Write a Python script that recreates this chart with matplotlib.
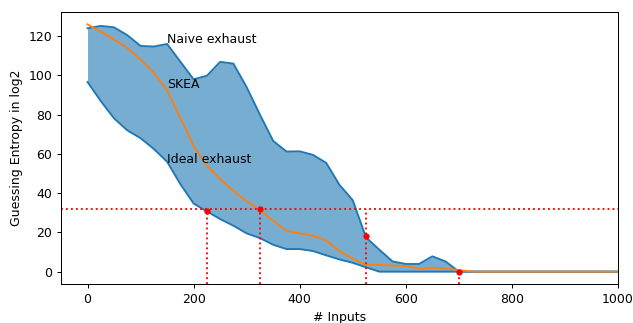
import matplotlib
matplotlib.use("Agg")
import matplotlib.pyplot as plt
import numpy as np

s = 0.9
plt.rcParams["font.size"] = 10 * s
plt.rcParams["xtick.major.size"] = 3.5 * s
plt.rcParams["ytick.major.size"] = 3.5 * s
plt.rcParams["xtick.major.pad"] = 3.5 * s
plt.rcParams["ytick.major.pad"] = 3.5 * s
plt.rcParams["axes.labelpad"] = 4.0 * s
plt.rcParams["axes.linewidth"] = 0.8 * s
plt.rcParams["xtick.major.width"] = 0.8 * s
plt.rcParams["ytick.major.width"] = 0.8 * s

inputs = list(range(0, 1001, 25))
naive = [124, 125.2, 124.5, 120.5, 115, 114.7, 116, 107, 98, 99.8, 106.9, 106, 94,
         80, 66.6, 61.2, 61.3, 59.5, 55.4, 44.2, 36.4, 17.4, 11.2, 5.2, 3.9, 3.9,
         7.8, 5.2, 0] + [0] * 12
ideal = [96.6, 86.9, 78.1, 72, 68, 62.5, 56, 44.6, 34.7, 30.7, 26.8, 23.4, 19.5,
         17.1, 13.7, 11.5, 11.5, 10.5, 8.3, 6.2, 4.5, 2.2, 0] + [0] * 18
skea = [126, 122.2, 118.3, 114, 108, 101.3, 92.4, 78.4, 64, 53.9, 47.1, 41.2, 35.8,
        31.4, 25.9, 20.8, 19.5, 18.3, 15.8, 10.5, 6.5, 3.4, 3.4, 3.1, 2.9, 1.6,
        2.0, 1.6, 0.8, 0] + [0] * 11

threshold = 32
cross_x = [225, 325, 525, 700]
cross_y = [31, 32, 18, 0]
line_top = [32, 32, 32, 0]

fig, ax = plt.subplots(figsize=(6.33, 3.23), dpi=100)
fig.subplots_adjust(left=61/633, right=618/633, top=1-12/323, bottom=1-284/323)

lw = 1.5 * s
ax.fill_between(inputs, ideal, naive, color="tab:blue", alpha=0.6, linewidth=0)
ax.plot(inputs, naive, color="tab:blue", linewidth=lw)
ax.plot(inputs, ideal, color="tab:blue", linewidth=lw)
ax.plot(inputs, skea, color="tab:orange", linewidth=lw)

ax.axhline(threshold, color="red", linestyle=":", linewidth=lw)
ymin = -6.3
for x, top in zip(cross_x, line_top):
    ax.plot([x, x], [ymin - 5, top], color="red", linestyle=":", linewidth=lw)
ax.plot(cross_x, cross_y, "o", color="red", markersize=3.5)

ax.text(150, 116.5, "Naive exhaust")
ax.text(150, 93.5, "SKEA")
ax.text(150, 55.5, "Ideal exhaust")

ax.set_xlim(-50, 1000)
ax.set_ylim(ymin, 132.3)
ax.set_xlabel("# Inputs")
ax.set_ylabel("Guessing Entropy in log2")

fig.savefig("out.png", dpi=100)
